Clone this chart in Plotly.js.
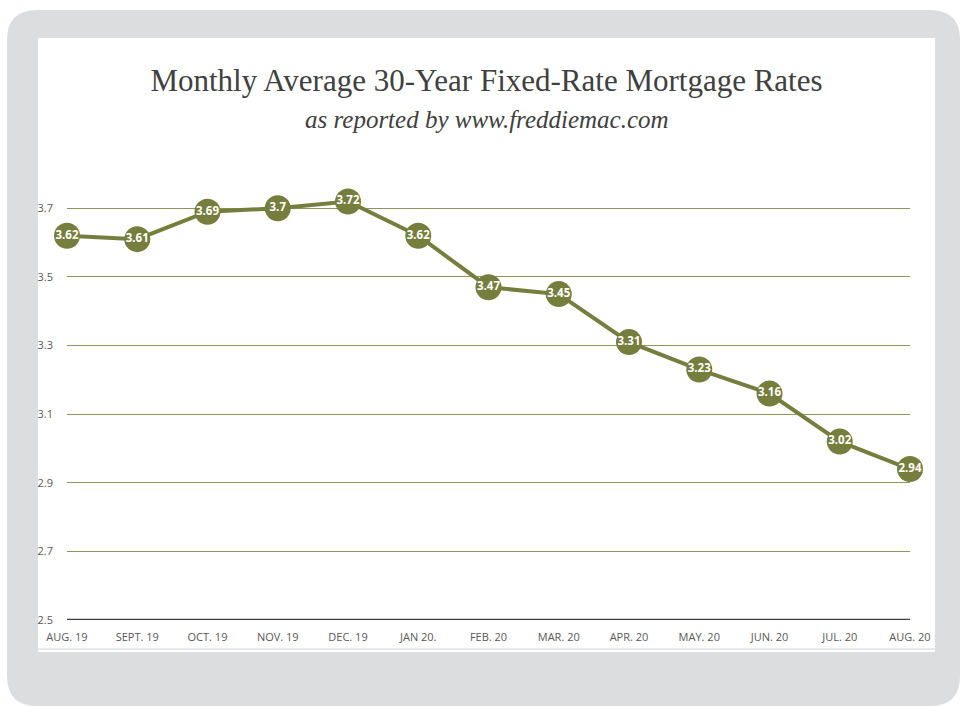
<!DOCTYPE html>
<html>
<head>
<meta charset="utf-8">
<script src="https://cdn.plot.ly/plotly-3.0.1.min.js"></script>
<style>
  html, body { margin: 0; padding: 0; background: #ffffff; }
  #chart { width: 960px; height: 706px; }
</style>
</head>
<body>
<div id="chart"></div>
<script>
// ---- data ----
const months = ["AUG. 19", "SEPT. 19", "OCT. 19", "NOV. 19", "DEC. 19", "JAN 20.", "FEB. 20",
                "MAR. 20", "APR. 20", "MAY. 20", "JUN. 20", "JUL. 20", "AUG. 20"];
const rates = [3.62, 3.61, 3.69, 3.7, 3.72, 3.62, 3.47, 3.45, 3.31, 3.23, 3.16, 3.02, 2.94];
const yTicks = [2.5, 2.7, 2.9, 3.1, 3.3, 3.5, 3.7];
const titleText = "Monthly Average 30-Year Fixed-Rate Mortgage Rates";
const subtitleText = "as reported by www.freddiemac.com";

// ---- layout geometry (pixels) ----
const W = 960, H = 706;
const M = { l: 67, r: 50, t: 174, b: 86 };
const pw = W - M.l - M.r, ph = H - M.t - M.b;
const px = x => (x - M.l) / pw;           // pixel -> paper x
const py = y => (H - M.b - y) / ph;       // pixel -> paper y

function roundRect(x0, y0, x1, y1, r) {
  const X = px, Y = py;
  return `M ${X(x0 + r)} ${Y(y0)} L ${X(x1 - r)} ${Y(y0)} ` +
         `Q ${X(x1)} ${Y(y0)} ${X(x1)} ${Y(y0 + r)} L ${X(x1)} ${Y(y1 - r)} ` +
         `Q ${X(x1)} ${Y(y1)} ${X(x1 - r)} ${Y(y1)} L ${X(x0 + r)} ${Y(y1)} ` +
         `Q ${X(x0)} ${Y(y1)} ${X(x0)} ${Y(y1 - r)} L ${X(x0)} ${Y(y0 + r)} ` +
         `Q ${X(x0)} ${Y(y0)} ${X(x0 + r)} ${Y(y0)} Z`;
}

const olive = "#767e3e";

const trace = {
  type: "scatter",
  mode: "lines+markers+text",
  x: months,
  y: rates,
  text: rates.map(v => String(v)),
  textposition: "middle center",
  textfont: { family: "Open Sans, sans-serif", size: 11.5, color: "#ffffff", weight: "bold" },
  line: { color: olive, width: 4 },
  marker: { color: olive, size: 26 },
  hoverinfo: "x+y",
  cliponaxis: false
};

const layout = {
  width: W, height: H,
  margin: M,
  paper_bgcolor: "#ffffff",
  plot_bgcolor: "rgba(0,0,0,0)",
  showlegend: false,
  title: {
    text: titleText,
    font: { family: "Liberation Serif, serif", size: 31, color: "#404040" },
    x: 486.5 / W, xref: "container", xanchor: "center",
    y: 1 - 91 / H, yref: "container", yanchor: "bottom"
  },
  annotations: [
    { text: subtitleText, showarrow: false,
      xref: "paper", yref: "paper", x: px(486.5), y: py(119),
      xanchor: "center", yanchor: "middle",
      font: { family: "Liberation Serif, serif", size: 25, color: "#404040", style: "italic" } }
  ],
  xaxis: {
    type: "category",
    range: [0, months.length - 1],
    showgrid: false,
    zeroline: false,
    showline: false,
    ticks: "",
    ticklabelstandoff: 9,
    tickfont: { family: "Open Sans, sans-serif", size: 11, color: "#595959" },
    fixedrange: true
  },
  yaxis: {
    range: [2.5, 3.8],
    tickvals: yTicks,
    ticktext: yTicks.map(v => v.toFixed(1)),
    showgrid: true,
    gridcolor: "#8e9660",
    gridwidth: 1,
    zeroline: false,
    showline: false,
    ticks: "",
    ticklabelstandoff: 13,
    tickfont: { family: "Open Sans, sans-serif", size: 11, color: "#595959" },
    fixedrange: true
  },
  shapes: [
    { type: "path", xref: "paper", yref: "paper", layer: "below",
      path: roundRect(7, 10, 960, 706, 30),
      fillcolor: "#dcdddf", line: { width: 0 } },
    { type: "rect", xref: "paper", yref: "paper", layer: "below",
      x0: px(38), x1: px(935), y0: py(38), y1: py(652),
      fillcolor: "#ffffff", line: { width: 0 } },
    { type: "line", xref: "paper", yref: "paper", layer: "below",
      x0: px(38), x1: px(935), y0: py(649), y1: py(649),
      line: { color: "#d4d4d4", width: 1 } },
    { type: "line", xref: "paper", yref: "y", layer: "above",
      x0: 0, x1: 1, y0: 2.5, y1: 2.5,
      line: { color: "#404040", width: 2.5 } }
  ]
};

Plotly.newPlot("chart", [trace], layout, { displayModeBar: false, staticPlot: true });
</script>
</body>
</html>
